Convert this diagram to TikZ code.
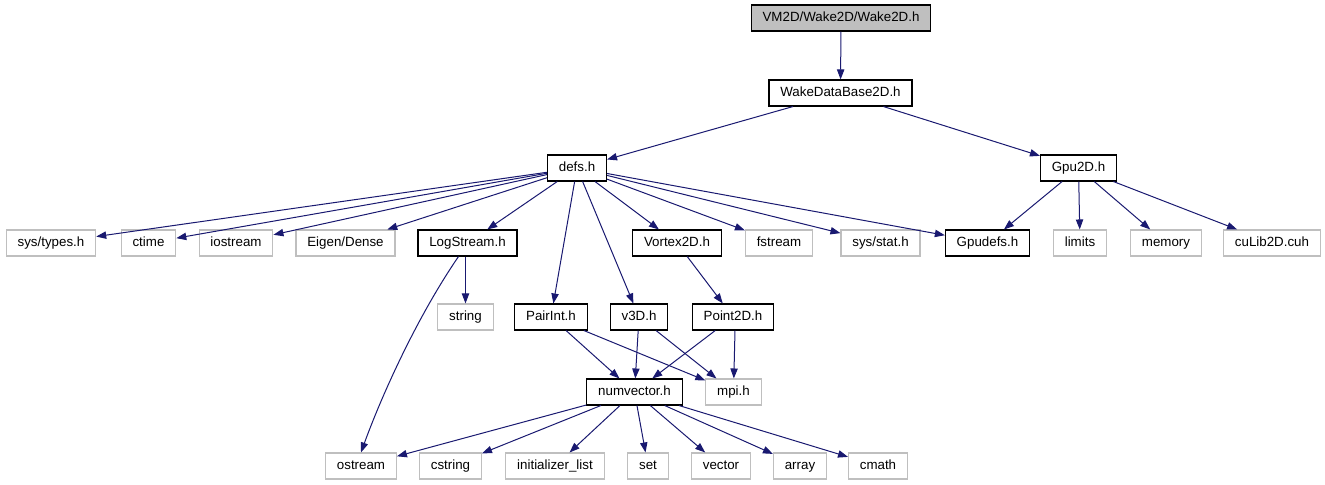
\documentclass[tikz,border=0pt]{standalone}
\usepackage{fontspec}
\setmainfont{Liberation Sans}
\usetikzlibrary{arrows.meta,positioning,shapes}
\definecolor{edgeblue}{rgb}{0.098,0.098,0.439}
\definecolor{extgray}{rgb}{0.75,0.75,0.75}
\tikzset{
  hdr/.style={draw=black,line width=.8pt,minimum height=19.5pt,inner xsep=8.5pt,inner ysep=0pt,
    text height=7.3pt,text depth=2pt,font=\fontsize{10}{12}\selectfont},
  ext/.style={hdr,draw=extgray},
  inc/.style={draw=edgeblue,line width=.75pt,-{Triangle[length=7.5pt,width=5.5pt]}}
}

\begin{document}
\begin{tikzpicture}[x=.75pt,y=-.75pt]
\useasboundingbox (0,0) rectangle (1325,485);
% top of the graph
\node[hdr,fill=extgray] (wake) at (841,18) {VM2D/Wake2D/Wake2D.h};
\node[hdr] (wakedb) at (840.5,93) {WakeDataBase2D.h};
\node[hdr] (defs) at (577,168) {defs.h};
\node[hdr] (gpu) at (1078.5,168) {Gpu2D.h};
% third row
\node[ext] (systypes) at (51,243) {sys/types.h};
\node[ext] (ctime) at (148.5,243) {ctime};
\node[ext] (iostream) at (236,243) {iostream};
\node[ext] (eigen) at (345.5,243) {Eigen/Dense};
\node[hdr] (logstream) at (467.5,243) {LogStream.h};
\node[hdr] (vortex) at (677,243) {Vortex2D.h};
\node[ext] (fstream) at (779,243) {fstream};
\node[ext] (sysstat) at (880.5,243) {sys/stat.h};
\node[hdr] (gpudefs) at (987.5,243) {Gpudefs.h};
\node[ext] (limits) at (1080,243) {limits};
\node[ext] (memory) at (1166,243) {memory};
\node[ext] (culib) at (1272,243) {cuLib2D.cuh};
% fourth row
\node[ext] (string) at (465.5,317) {string};
\node[hdr] (pairint) at (551,317) {PairInt.h};
\node[hdr] (vthree) at (639,317) {v3D.h};
\node[hdr] (point) at (733,317) {Point2D.h};
\node[hdr] (numvector) at (634.5,392) {numvector.h};
\node[ext] (mpi) at (733.5,392) {mpi.h};
% bottom row
\node[ext] (ostream) at (361,466) {ostream};
\node[ext] (cstring) at (450.5,466) {cstring};
\node[ext] (initlist) at (555,466) {initializer\_list};
\node[ext] (set) at (648,466) {set};
\node[ext] (vector) at (721,466) {vector};
\node[ext] (array) at (800,466) {array};
\node[ext] (cmath) at (878,466) {cmath};

\draw[inc] (wake) -- (wakedb);
\draw[inc] (wakedb) -- (defs);
\draw[inc] (wakedb) -- (gpu);
\foreach \t in {systypes,ctime,iostream,eigen,logstream,pairint,vthree,vortex,fstream,sysstat,gpudefs}
  \draw[inc] (defs) -- (\t);
\foreach \t in {gpudefs,limits,memory,culib}
  \draw[inc] (gpu) -- (\t);
\draw[inc] (logstream.south) ++(-9,0) .. controls (415,320) and (380,400) .. (ostream.north);
\draw[inc] (logstream.south) ++(-2,0) -- (string);
\draw[inc] (vortex) -- (point);
\draw[inc] (pairint) -- (numvector);
\draw[inc] (pairint) -- (mpi);
\draw[inc] (vthree) -- (numvector);
\draw[inc] (vthree) -- (mpi);
\draw[inc] (point) -- (numvector);
\draw[inc] (point.south) ++(2,0) -- (mpi);
\foreach \t in {ostream,cstring,initlist,set,vector,array,cmath}
  \draw[inc] (numvector) -- (\t);
\end{tikzpicture}
\end{document}
